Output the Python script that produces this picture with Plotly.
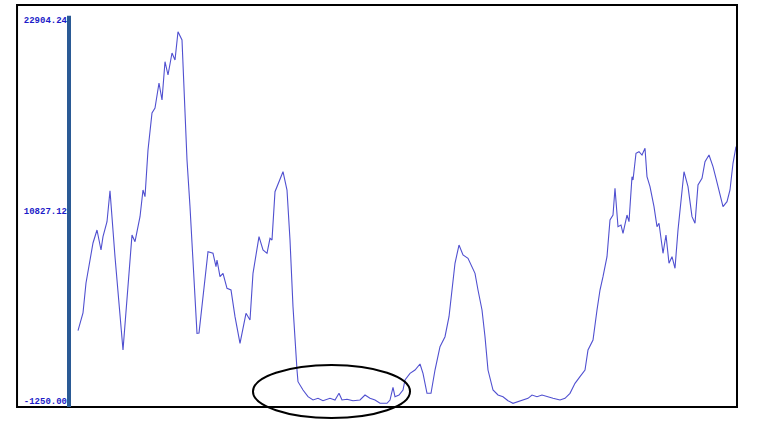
import plotly.graph_objects as go

# sample index and signal value
sample = [
    0, 5, 8, 15, 19, 23, 25, 29, 32, 37, 45, 49, 54, 57, 62, 65, 67, 70, 74, 77,
    81, 84, 87, 90, 94, 97, 100, 104, 107, 109, 112, 119, 121, 125, 130, 135, 138, 139, 142, 145,
    149, 153, 157, 162, 165, 168, 172, 175, 181, 185, 189, 192, 194, 197, 205, 209, 212, 215, 219, 220,
    225, 230, 235, 240, 245, 252, 257, 261, 264, 269, 275, 282, 287, 292, 297, 302, 309, 312, 315, 317,
    321, 325, 327, 332, 337, 342, 345, 349, 353, 357, 362, 367, 371, 373, 377, 381, 385, 390, 394, 397,
    400, 404, 407, 410, 415, 420, 425, 430, 435, 440, 445, 450, 454, 459, 464, 469, 475, 482, 487, 492,
    497, 502, 507, 510, 515, 519, 522, 525, 529, 532, 535, 537, 540, 543, 545, 549, 551, 554, 555, 558,
    561, 564, 567, 569, 572, 576, 579, 581, 585, 588, 591, 594, 597, 600, 604, 606, 610, 614, 617, 620,
    624, 627, 631, 635, 638, 641, 645, 649, 652, 655, 658,
]
signal = [
    3207, 4329, 6231, 8767, 9591, 8323, 9167, 10118, 12083, 7899, 1983, 5153, 9274, 8850, 10435, 12127, 11703, 14663, 17009, 17326,
    18911, 17833, 20262, 19418, 20813, 20369, 22164, 21637, 16565, 14029, 11069, 3042, 3061, 5363, 8216, 8114, 7265, 7689, 6631, 6846,
    5895, 5787, 4095, 2408, 3461, 4310, 3885, 6846, 9167, 8323, 8114, 9065, 8957, 12020, 13288, 12127, 8957, 4729, 715, -26,
    -553, -977, -1187, -1079, -1231, -1079, -1187, -762, -1187, -1142, -1231, -1187, -870, -1079, -1187, -1396, -1396, -1187, -381, -977,
    -870, -553, 81, 506, 715, 1096, 506, -762, -762, 715, 2193, 2827, 4095, 5363, 7480, 8640, 8006, 7797, 7265, 6846,
    5787, 4519, 2827, 715, -553, -870, -977, -1231, -1396, -1294, -1187, -1079, -870, -977, -870, -977, -1079, -1187, -1079, -762,
    -128, 291, 715, 1983, 2617, 4519, 5787, 6631, 7899, 10225, 10542, 12235, 9801, 9908, 9382, 10542, 10118, 12971, 12761, 14454,
    14556, 14346, 14771, 12971, 12337, 11069, 9801, 10016, 8114, 9274, 7480, 7899, 7163, 9591, 12337, 13288, 12337, 10435, 10016, 12444,
    12869, 13922, 14346, 13605, 12869, 12127, 11069, 11386, 12127, 13820, 14873,
]

tick_vals = [-1250.00, 10827.12, 22904.24]
tick_text = ["-1250.00", "10827.12", "22904.24"]

fig = go.Figure()
fig.add_trace(go.Scatter(
    x=sample, y=signal, mode="lines",
    line={"color": "#5050d0", "width": 1.1},
    hoverinfo="skip",
))

fig.update_layout(
    width=766, height=421,
    margin={"l": 69, "r": 29, "t": 5, "b": 14},
    paper_bgcolor="white",
    plot_bgcolor="white",
    showlegend=False,
)
fig.update_xaxes(range=[-9, 659], visible=False)
fig.update_yaxes(
    range=[-1630, 23856],
    tickvals=tick_vals, ticktext=tick_text,
    showgrid=False, zeroline=False, showline=False, ticks="",
    automargin=False,
    tickfont={"family": "Liberation Mono", "size": 9, "color": "#1c1cc8", "weight": "bold"},
    ticklabelstandoff=1,
)

# outer frame
fig.add_shape(type="rect", xref="paper", yref="paper",
              x0=-0.0778, x1=1.0, y0=0, y1=1,
              line={"color": "black", "width": 2})
# thick axis bar
fig.add_shape(type="line", xref="paper", yref="paper",
              x0=0, x1=0, y0=0, y1=0.973,
              line={"color": "#2a5a95", "width": 4})
# highlight ellipse
fig.add_shape(type="circle", xref="paper", yref="paper",
              x0=0.2754, x1=0.5105, y0=-0.0274, y1=0.1045,
              line={"color": "black", "width": 2})

# drop the default page margin so the figure sits at the window corner
fig.write_html(
    "out.html",
    config={"displayModeBar": False},
    post_script="document.body.style.margin='0';",
)
